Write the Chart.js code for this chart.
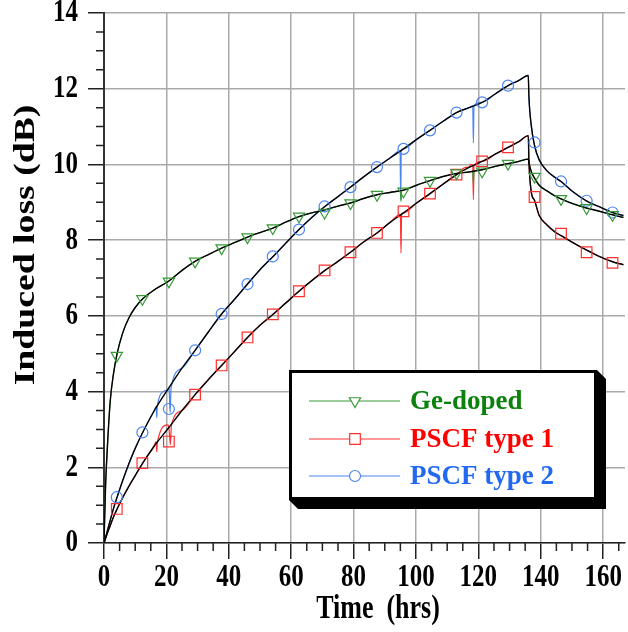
<!DOCTYPE html>
<html>
<head>
<meta charset="utf-8">
<script src="https://cdn.jsdelivr.net/npm/chart.js@4/dist/chart.umd.min.js"></script>
<style>
  body { margin: 0; background: #fff; }
</style>
</head>
<body>
<canvas id="myChart" width="628" height="632"></canvas>
<script>
// smooth (fitted) curves
const riseTime = [0, 0.5, 1, 2, 3, 4.2, 6, 8, 10, 12.4, 16, 20.8, 25, 29.2, 33.5, 37.7, 42, 46, 50, 54.2,
  58.4, 62.5, 66.6, 70.8, 75, 79, 83.2, 87.5, 91.7, 96, 100.2, 104.5, 108.7, 113, 117, 121.2, 125.4, 129.5, 133, 136];
const decayTime = [136.2, 137, 138, 139.5, 142, 144.5, 146.5, 150, 154.6, 158.5, 163, 166.5];

const geRise = [0, 1.5, 2.4, 3.75, 4.45, 5.0, 5.55, 5.95, 6.22, 6.45, 6.68, 6.92, 7.2, 7.44, 7.62, 7.79, 7.94, 8.08, 8.2, 8.32,
  8.48, 8.62, 8.72, 8.8, 8.9, 8.98, 9.1, 9.2, 9.26, 9.32, 9.45, 9.57, 9.68, 9.76, 9.8, 9.86, 9.95, 10.02, 10.08, 10.14];
const geDecay = [10.05, 9.8, 9.64, 9.45, 9.3, 9.17, 9.09, 8.97, 8.85, 8.77, 8.67, 8.6];

const type1Rise = [0, 0.12, 0.24, 0.46, 0.68, 0.9, 1.2, 1.5, 1.78, 2.11, 2.55, 3.05, 3.5, 3.92, 4.32, 4.69, 5.07, 5.43, 5.75, 6.04,
  6.35, 6.65, 6.93, 7.2, 7.44, 7.68, 7.95, 8.19, 8.47, 8.72, 8.98, 9.23, 9.48, 9.73, 9.92, 10.08, 10.27, 10.45, 10.6, 10.76];
const type1Decay = [10.1, 9.25, 9.05, 8.65, 8.4, 8.22, 8.12, 7.95, 7.74, 7.58, 7.43, 7.35];

const type2Rise = [0, 0.15, 0.3, 0.6, 0.9, 1.21, 1.65, 2.1, 2.5, 2.92, 3.48, 4.1, 4.62, 5.09, 5.58, 6.05, 6.45, 6.84, 7.22, 7.57,
  7.93, 8.28, 8.6, 8.89, 9.15, 9.4, 9.67, 9.93, 10.17, 10.41, 10.66, 10.9, 11.14, 11.37, 11.5, 11.64, 11.86, 12.08, 12.22, 12.35];
const type2Decay = [11.8, 11.0, 10.5, 10.12, 9.83, 9.66, 9.55, 9.3, 9.04, 8.89, 8.73, 8.65];

// glitches in the measured traces
const geGlitchTime = [95.0, 95.2, 95.4, 118.2, 118.4, 118.6];
const geGlitch = [9.3, 9.02, 9.3, 9.82, 9.46, 9.82];
const type1GlitchTime = [16.7, 16.9, 17.1, 20.5, 20.9, 21.3, 21.6, 95.0, 95.2, 95.4, 116, 117.5, 118.2, 118.4, 118.6];
const type1Glitch = [2.68, 2.41, 2.66, 3.12, 2.95, 2.6, 3.1, 8.68, 7.66, 8.7, 9.92, 10.0, 9.97, 9.07, 9.97];
const type2GlitchTime = [16.7, 16.9, 17.1, 19.5, 20.4, 20.9, 21.2, 21.5, 94.9, 95.1, 95.3, 118.2, 118.4, 118.6];
const type2Glitch = [3.6, 3.31, 3.62, 4.02, 4.05, 4.05, 3.44, 4.1, 10.36, 9.07, 10.38, 11.55, 10.57, 11.56];

// symbols
const markTime = [4.1, 12.3, 20.8, 29.2, 37.7, 46.0, 54.1, 62.5, 70.7, 79.0, 87.5, 96.0, 104.5, 113.0,
  121.2, 129.5, 138.0, 146.5, 154.7, 163.0];
const geMarks = [4.95, 6.45, 6.91, 7.44, 7.79, 8.08, 8.32, 8.63, 8.73, 8.98, 9.2, 9.29, 9.57, 9.77, 9.82, 10.02, 9.68, 9.09, 8.85, 8.67];
const type1Marks = [0.9, 2.11, 2.68, 3.92, 4.69, 5.43, 6.04, 6.65, 7.2, 7.68, 8.19, 8.76, 9.23, 9.73, 10.08, 10.45, 9.14, 8.17, 7.68, 7.4];
const type2Marks = [1.21, 2.92, 3.54, 5.09, 6.05, 6.84, 7.57, 8.28, 8.89, 9.4, 9.93, 10.41, 10.9, 11.37, 11.64, 12.08, 10.58, 9.55, 9.04, 8.73];

const names = ['Ge-doped', 'PSCF type 1', 'PSCF type 2'];
const xTicks = [0, 20, 40, 60, 80, 100, 120, 140, 160];
const yTicks = [0, 2, 4, 6, 8, 10, 12, 14];

const serif = "'Liberation Serif', 'Times New Roman', serif";

function pts(t, v) {
  return t.map((x, i) => ({ x: x, y: v[i] }));
}
function fit(rise, decay) {
  return pts(riseTime, rise).concat(pts(decayTime, decay));
}
function measured(rise, decay, gt, gv) {
  return fit(rise, decay).concat(pts(gt, gv)).sort((a, b) => a.x - b.x);
}

const series = [
  { name: names[0], line: '#3a9a3a', text: '#0b820b', style: 'triangle', rot: 180, r: 6.5,
    fit: fit(geRise, geDecay), meas: measured(geRise, geDecay, geGlitchTime, geGlitch), marks: pts(markTime, geMarks) },
  { name: names[1], line: '#ff3030', text: '#ff0000', style: 'rect', rot: 0, r: 7.5,
    fit: fit(type1Rise, type1Decay), meas: measured(type1Rise, type1Decay, type1GlitchTime, type1Glitch), marks: pts(markTime, type1Marks) },
  { name: names[2], line: '#4a84f2', text: '#2269f0', style: 'circle', rot: 0, r: 5.5,
    fit: fit(type2Rise, type2Decay), meas: measured(type2Rise, type2Decay, type2GlitchTime, type2Glitch), marks: pts(markTime, type2Marks) }
];

const datasets = [];
series.forEach(s => {
  datasets.push({
    data: s.meas, showLine: true, borderColor: s.line, borderWidth: 1.2, pointRadius: 0,
    cubicInterpolationMode: 'monotone', order: 2
  });
  datasets.push({
    data: s.fit, showLine: true, borderColor: '#000', borderWidth: 1.4, pointRadius: 0,
    cubicInterpolationMode: 'monotone', order: 1
  });
  datasets.push({
    data: s.marks, showLine: false, pointStyle: s.style, rotation: s.rot, pointRadius: s.r,
    pointBorderColor: s.line, pointBackgroundColor: 'rgba(0,0,0,0)', pointBorderWidth: 1.2, order: 0
  });
});

// the axis text in the picture is drawn tall and narrow
function tallText(ctx, text, x, y, size, align, rot, stretch) {
  ctx.save();
  ctx.translate(x, y);
  if (rot) ctx.rotate(rot);
  if (rot) ctx.scale(stretch, 1); else ctx.scale(1, stretch);
  ctx.font = 'bold ' + size + 'px ' + serif;
  ctx.textAlign = align;
  ctx.textBaseline = 'middle';
  ctx.fillText(text, 0, 0);
  ctx.restore();
}

// minor ticks, axis text and the framed legend
const extras = {
  id: 'extras',
  afterDraw(chart) {
    const ctx = chart.ctx;
    const xs = chart.scales.x, ys = chart.scales.y;
    const area = chart.chartArea;
    ctx.save();
    ctx.strokeStyle = '#222';
    ctx.lineWidth = 1.5;
    ctx.beginPath();
    for (let t = 5; t < 167; t += 5) {
      if (t % 20 === 0) continue;
      const px = xs.getPixelForValue(t);
      ctx.moveTo(px, area.bottom);
      ctx.lineTo(px, area.bottom + 8);
    }
    for (let v = 0.5; v < 14; v += 0.5) {
      if (v % 2 === 0) continue;
      const py = ys.getPixelForValue(v);
      ctx.moveTo(area.left - 8, py);
      ctx.lineTo(area.left, py);
    }
    ctx.stroke();

    ctx.fillStyle = '#000';
    xTicks.forEach(v => tallText(ctx, String(v), xs.getPixelForValue(v), 578, 25, 'center', 0, 1.3));
    yTicks.forEach(v => tallText(ctx, String(v), 78, ys.getPixelForValue(v), 25, 'right', 0, 1.3));
    tallText(ctx, 'Time  (hrs)', 378, 609, 26, 'center', 0, 1.3);
    tallText(ctx, 'Induced loss (dB)', 27, 245, 29, 'center', -Math.PI / 2, 1.3);

    // legend box with shadow
    const L = 289, T = 370, R = 597, B = 500, sh = 9;
    ctx.fillStyle = '#000';
    ctx.beginPath();
    ctx.moveTo(R, T);
    ctx.lineTo(R + sh, T + sh);
    ctx.lineTo(R + sh, B + sh);
    ctx.lineTo(L + sh, B + sh);
    ctx.lineTo(L, B);
    ctx.closePath();
    ctx.fill();
    ctx.fillStyle = '#fff';
    ctx.fillRect(L, T, R - L, B - T);
    ctx.lineWidth = 3;
    ctx.strokeStyle = '#000';
    ctx.strokeRect(L + 1.5, T + 1.5, R - L - 3, B - T - 3);

    const rows = [401, 439, 476];
    series.forEach((s, i) => {
      const y = rows[i];
      ctx.strokeStyle = s.line;
      ctx.lineWidth = 1;
      ctx.beginPath();
      ctx.moveTo(309, y);
      ctx.lineTo(400, y);
      ctx.stroke();
      ctx.fillStyle = '#fff';
      ctx.strokeStyle = s.line;
      ctx.lineWidth = 1.2;
      Chart.helpers.drawPoint(ctx, { pointStyle: s.style, radius: s.r, rotation: s.rot, borderWidth: 1.2 }, 355, y);
      ctx.fillStyle = s.text;
      ctx.font = 'bold 27px ' + serif;
      ctx.textBaseline = 'middle';
      ctx.textAlign = 'left';
      ctx.fillText(s.name, 410, y + 1);
    });
    ctx.restore();
  }
};

const config = {
  type: 'scatter',
  data: { datasets: datasets },
  options: {
    responsive: false,
    animation: false,
    layout: { autoPadding: false, padding: { left: 0, right: 3, top: 13, bottom: 0 } },
    plugins: { legend: { display: false }, tooltip: { enabled: false } },
    scales: {
      x: {
        type: 'linear', min: 0, max: 167,
        afterBuildTicks: s => { s.ticks = xTicks.map(v => ({ value: v })); },
        afterFit: s => { s.height = 89; s.paddingLeft = 0; s.paddingRight = 0; },
        ticks: { display: false },
        grid: { color: '#aaaaaa', lineWidth: 1.5, tickLength: 16, tickColor: '#222', tickWidth: 1.5 },
        border: { color: '#222', width: 1.5 }
      },
      y: {
        min: 0, max: 14,
        afterBuildTicks: s => { s.ticks = yTicks.map(v => ({ value: v })); },
        afterFit: s => { s.width = 104; s.paddingTop = 0; s.paddingBottom = 0; },
        ticks: { display: false },
        grid: { color: '#aaaaaa', lineWidth: 1.5, tickLength: 16, tickColor: '#222', tickWidth: 1.5 },
        border: { color: '#333', width: 2 }
      }
    }
  },
  plugins: [extras]
};

var myChart = new Chart(document.getElementById('myChart'), config);
</script>
</body>
</html>
